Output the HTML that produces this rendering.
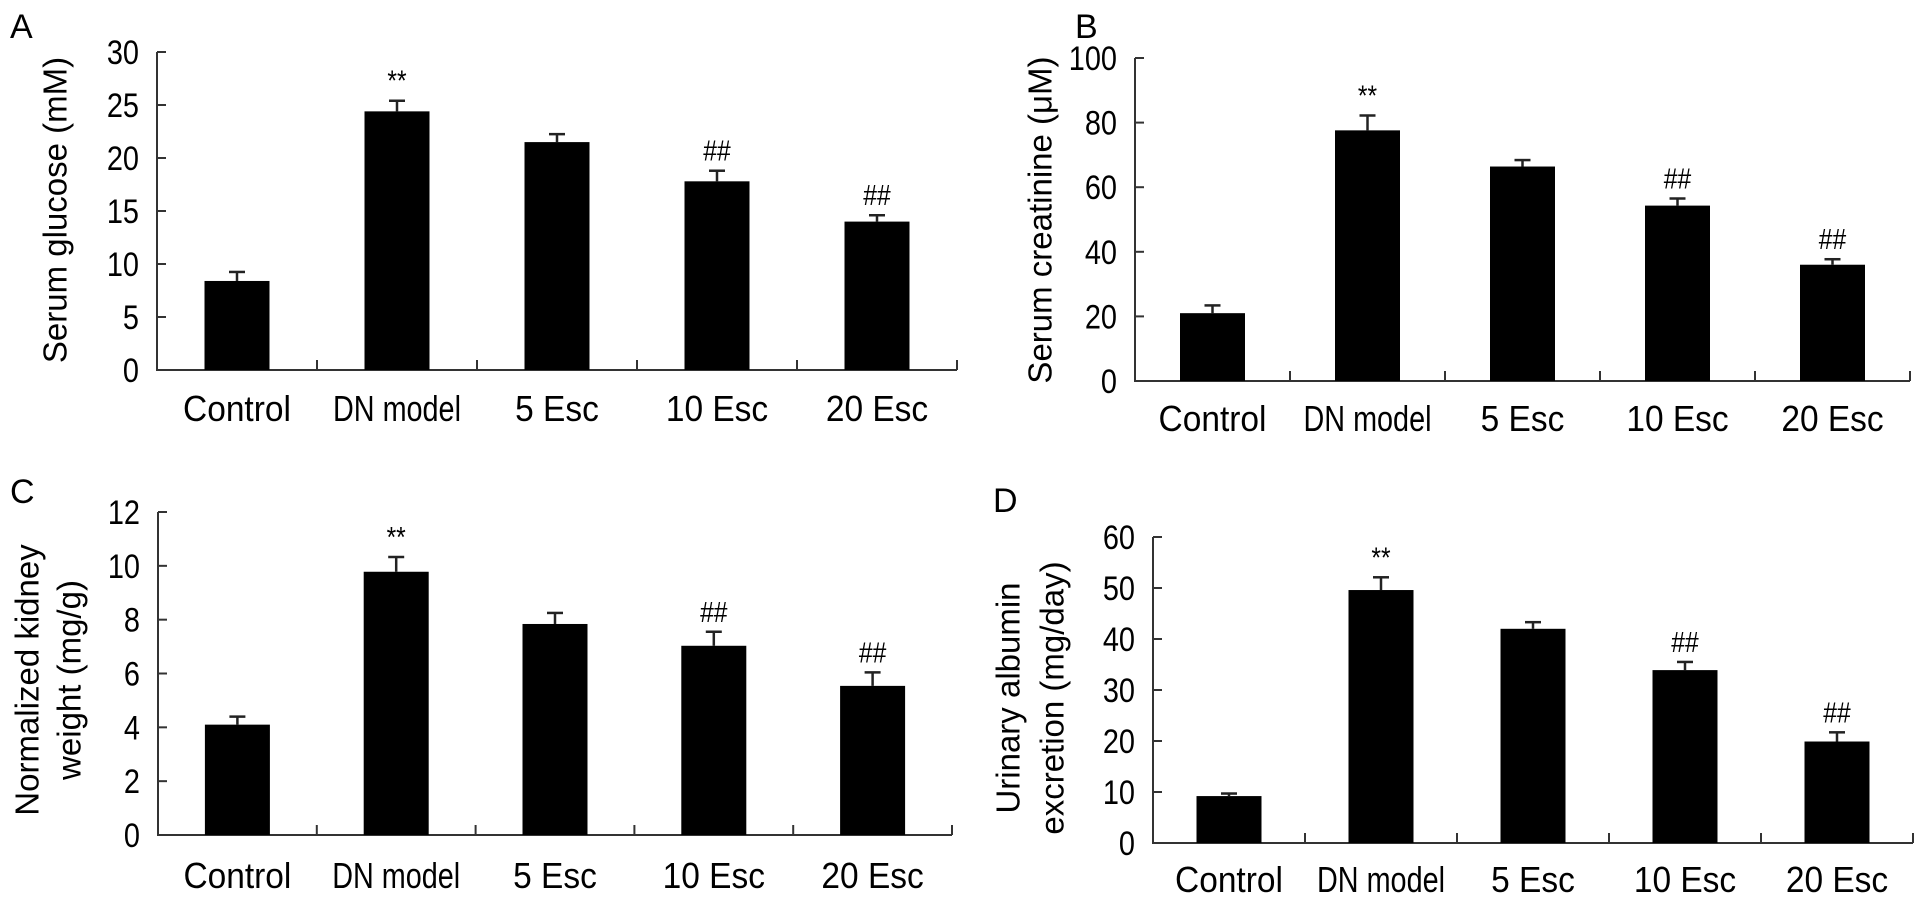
<!DOCTYPE html>
<html><head><meta charset="utf-8"><style>
html,body{margin:0;padding:0;background:#fff}
svg{display:block}
text{font-family:"Liberation Sans",Arial,sans-serif;fill:#000}
</style></head><body>
<svg id="fig" width="1928" height="902" viewBox="0 0 1928 902" xmlns="http://www.w3.org/2000/svg"></svg>
<script>
const categories = ["Control","DN model","5 Esc","10 Esc","20 Esc"];
const glucoseValues = [8.4, 24.4, 21.5, 17.8, 14.0];
const glucoseErrors = [0.85, 1.0, 0.75, 1.0, 0.6];
const glucoseMarks = ["", "**", "", "##", "##"];
const glucoseTicks = [0,5,10,15,20,25,30];
const creatinineValues = [21, 77.6, 66.4, 54.3, 36];
const creatinineErrors = [2.4, 4.6, 2.0, 2.2, 1.7];
const creatinineMarks = ["", "**", "", "##", "##"];
const creatinineTicks = [0,20,40,60,80,100];
const kidneyValues = [4.1, 9.78, 7.84, 7.03, 5.54];
const kidneyErrors = [0.3, 0.55, 0.41, 0.52, 0.5];
const kidneyMarks = ["", "**", "", "##", "##"];
const kidneyTicks = [0,2,4,6,8,10,12];
const albuminValues = [9.2, 49.6, 42.0, 33.9, 19.9];
const albuminErrors = [0.5, 2.5, 1.3, 1.6, 1.8];
const albuminMarks = ["", "**", "", "##", "##"];
const albuminTicks = [0,10,20,30,40,50,60];

const NS = "http://www.w3.org/2000/svg";
const svg = document.getElementById("fig");
function mk(tag, attrs, parent, txt){
  const e = document.createElementNS(NS, tag);
  for (const k in attrs) e.setAttribute(k, attrs[k]);
  if (txt !== undefined) e.textContent = txt;
  parent.appendChild(e);
  return e;
}
function panel(cfg, values, errors, marks, ticks){
  const g = mk("g", {}, svg);
  
  
  const x0 = cfg.x0, x1 = cfg.x1, yTop = cfg.yTop, yZero = cfg.yZero;
  const vmax = ticks[ticks.length-1];
  const ys = v => yZero - (v / vmax) * (yZero - yTop);
  const cw = (x1 - x0) / categories.length;
  const xc = i => x0 + cw * (i + 0.5);
  const lt = mk("text", {x: cfg.letterX, y: cfg.letterY, "font-size": 34}, g, cfg.letter);
  
  
  const ya = mk("line", {x1: x0, y1: yTop, x2: x0, y2: yZero, stroke: "#333", "stroke-width": 2}, g);
  
  
  const xa = mk("line", {x1: x0 - 1, y1: yZero, x2: x1, y2: yZero, stroke: "#333", "stroke-width": 2}, g);
  
  
  ticks.forEach(t => {
    const y = ys(t);
    const tk = mk("line", {x1: x0, y1: y, x2: x0 + 9, y2: y, stroke: "#333", "stroke-width": 2}, g);
    
    
    const tl = mk("text", {x: x0 - 18, y: y + 12, "font-size": 34, "text-anchor": "end", transform: `translate(${x0-18},0) scale(0.85,1) translate(${-(x0-18)},0)`}, g, String(t));
    
    
  });
  for (let i = 1; i <= categories.length; i++){
    const x = x0 + cw * i;
    const tk = mk("line", {x1: x, y1: yZero, x2: x, y2: yZero - 10, stroke: "#333", "stroke-width": 2}, g);
    
    
  }
  const bw = 65;
  categories.forEach((c, i) => {
    const cx = xc(i), top = ys(values[i]), et = ys(values[i] + errors[i]);
    const eb = mk("line", {x1: cx, y1: top, x2: cx, y2: et, stroke: "#222", "stroke-width": 2.5}, g);
    
    
    const ec = mk("line", {x1: cx - 8, y1: et, x2: cx + 8, y2: et, stroke: "#222", "stroke-width": 2.5}, g);
    
    
    const r = mk("rect", {x: cx - bw/2, y: top, width: bw, height: yZero - top, fill: "#000"}, g);
    
    
    if (marks[i]){
      const m = mk("text", {x: cx, y: et - 10, "font-size": 29, "text-anchor": "middle", fill: "#333",
        transform: `translate(${cx},0) scale(0.85,1) translate(${-cx},0)`}, g, marks[i]);
      
      
    }
    const narrow = c === "DN model";
    const cl = mk("text", {x: cx, y: cfg.labelY, "font-size": 36, "text-anchor": "middle",
      transform: `translate(${cx},0) scale(${narrow ? 0.8 : 0.93},1) translate(${-cx},0)`}, g, c);
    
    
  });
  cfg.title.forEach((line, k) => {
    const tx = cfg.titleX[k], ty = cfg.titleY;
    const t = mk("text", {x: tx, y: ty, "font-size": 33, "text-anchor": "middle", "dominant-baseline": "middle",
      transform: `rotate(-90 ${tx} ${ty})`}, g, line);
    
    
  });
}
panel({name:"panel-a-serum-glucose", letter:"A", letterX:10, letterY:38, x0:157, x1:957, yTop:52, yZero:370, labelY:421,
  title:["Serum glucose (mM)"], titleX:[58], titleY:210}, glucoseValues, glucoseErrors, glucoseMarks, glucoseTicks);
panel({name:"panel-b-serum-creatinine", letter:"B", letterX:1075, letterY:38, x0:1135, x1:1910, yTop:58, yZero:381, labelY:431,
  title:["Serum creatinine (\u03bcM)"], titleX:[1043], titleY:220}, creatinineValues, creatinineErrors, creatinineMarks, creatinineTicks);
panel({name:"panel-c-kidney-weight", letter:"C", letterX:10, letterY:503, x0:158, x1:952, yTop:512, yZero:835, labelY:888,
  title:["Normalized kidney","weight (mg/g)"], titleX:[30,72], titleY:680}, kidneyValues, kidneyErrors, kidneyMarks, kidneyTicks);
panel({name:"panel-d-urinary-albumin", letter:"D", letterX:993, letterY:512, x0:1153, x1:1913, yTop:537, yZero:843, labelY:892,
  title:["Urinary albumin","excretion (mg/day)"], titleX:[1011,1055], titleY:698}, albuminValues, albuminErrors, albuminMarks, albuminTicks);
</script>
</body></html>
